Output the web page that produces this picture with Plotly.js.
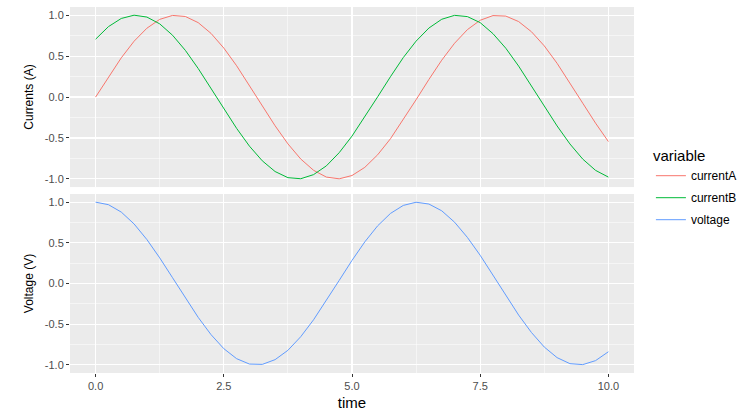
<!DOCTYPE html>
<html>
<head>
<meta charset="utf-8">
<script src="https://cdn.plot.ly/plotly-3.0.1.min.js"></script>
<style>
  html, body { margin: 0; padding: 0; background: #fff; }
  #chart { width: 750px; height: 419px; }
</style>
</head>
<body>
<div id="chart"></div>
<script>
// values, one every 0.25 of time
const time = [0, 0.25, 0.5, 0.75, 1, 1.25, 1.5, 1.75, 2, 2.25, 2.5, 2.75, 3, 3.25, 3.5, 3.75,
  4, 4.25, 4.5, 4.75, 5, 5.25, 5.5, 5.75, 6, 6.25, 6.5, 6.75, 7, 7.25, 7.5, 7.75,
  8, 8.25, 8.5, 8.75, 9, 9.25, 9.5, 9.75, 10];

const currentA = [0.000, 0.247, 0.479, 0.682, 0.841, 0.949, 0.997, 0.984, 0.909, 0.778, 0.598,
  0.382, 0.141, -0.108, -0.351, -0.572, -0.757, -0.895, -0.978, -0.999, -0.959, -0.859,
  -0.706, -0.510, -0.279, -0.033, 0.215, 0.450, 0.657, 0.823, 0.938, 0.995, 0.989, 0.922,
  0.798, 0.625, 0.412, 0.174, -0.075, -0.319, -0.544];

const currentB = [0.707, 0.860, 0.960, 1.000, 0.977, 0.894, 0.755, 0.570, 0.349, 0.106, -0.144,
  -0.383, -0.600, -0.779, -0.910, -0.985, -0.998, -0.948, -0.841, -0.680, -0.477, -0.245,
  0.002, 0.248, 0.482, 0.683, 0.843, 0.950, 0.998, 0.983, 0.909, 0.774, 0.596, 0.378,
  0.139, -0.110, -0.353, -0.573, -0.758, -0.896, -0.978];

const voltage = [1.000, 0.969, 0.878, 0.732, 0.540, 0.315, 0.071, -0.178, -0.416, -0.628, -0.801,
  -0.924, -0.990, -0.994, -0.936, -0.821, -0.654, -0.446, -0.211, 0.038, 0.284, 0.512,
  0.709, 0.861, 0.960, 0.999, 0.977, 0.894, 0.754, 0.567, 0.347, 0.100, -0.146, -0.388,
  -0.602, -0.781, -0.911, -0.985, -0.997, -0.948, -0.839];

const seriesNames = ['currentA', 'currentB', 'voltage'];
const seriesColors = ['#F8766D', '#00BA38', '#619CFF'];

const font = 'Arial, "Liberation Sans", sans-serif';

const traces = [
  { x: time, y: currentA, yaxis: 'y2', name: seriesNames[0], line: { color: seriesColors[0] } },
  { x: time, y: currentB, yaxis: 'y2', name: seriesNames[1], line: { color: seriesColors[1] } },
  { x: time, y: voltage, yaxis: 'y', name: seriesNames[2], line: { color: seriesColors[2] } },
].map(t => Object.assign(t, {
  type: 'scatter', mode: 'lines', xaxis: 'x',
  legendgroup: t.name, // one group per series so tracegroupgap spaces the keys
  line: Object.assign(t.line, { width: 1 }),
}));

function yAxis(domain, title) {
  return {
    domain: domain,
    range: [-1.1, 1.1],
    tickvals: [-1, -0.5, 0, 0.5, 1],
    ticktext: ['-1.0', '-0.5', '0.0', '0.5', '1.0'],
    ticks: 'outside', ticklen: 3, tickcolor: '#333', tickwidth: 1,
    tickfont: { family: font, size: 11, color: '#4D4D4D' },
    showgrid: true, gridcolor: '#fff', gridwidth: 1.1,
    minor: { tickvals: [-0.75, -0.25, 0.25, 0.75], showgrid: true, gridcolor: '#fff', gridwidth: 0.5, ticks: '' },
    zeroline: false, showline: false,
    title: { text: title, font: { family: font, size: 12, color: '#000' }, standoff: 8 },
    fixedrange: true,
  };
}

const layout = {
  width: 750, height: 419,
  margin: { l: 70, r: 116, t: 7, b: 46 },
  paper_bgcolor: '#fff',
  plot_bgcolor: '#EBEBEB',
  xaxis: {
    anchor: 'y',
    range: [-0.5, 10.5],
    tickvals: [0, 2.5, 5, 7.5, 10],
    ticktext: ['0.0', '2.5', '5.0', '7.5', '10.0'],
    ticks: 'outside', ticklen: 3, tickcolor: '#333', tickwidth: 1,
    tickfont: { family: font, size: 11, color: '#4D4D4D' },
    showgrid: true, gridcolor: '#fff', gridwidth: 1.1,
    minor: { tickvals: [1.25, 3.75, 6.25, 8.75], showgrid: true, gridcolor: '#fff', gridwidth: 0.5, ticks: '' },
    zeroline: false, showline: false,
    title: { text: 'time', font: { family: font, size: 15, color: '#000' }, standoff: 6 },
  },
  yaxis: yAxis([0, 0.489], 'Voltage (V)'),
  yaxis2: yAxis([0.508, 1], 'Currents (A)'),
  showlegend: true,
  legend: {
    x: 1.03, xanchor: 'left', y: 0.632, yanchor: 'top',
    title: { text: 'variable', font: { family: font, size: 15, color: '#000' } },
    font: { family: font, size: 12, color: '#000' },
    bgcolor: 'rgba(0,0,0,0)',
    traceorder: 'grouped',
    tracegroupgap: 3,
    itemwidth: 30,
  },
};

Plotly.newPlot('chart', traces, layout, { displayModeBar: false, staticPlot: true });
</script>
</body>
</html>
